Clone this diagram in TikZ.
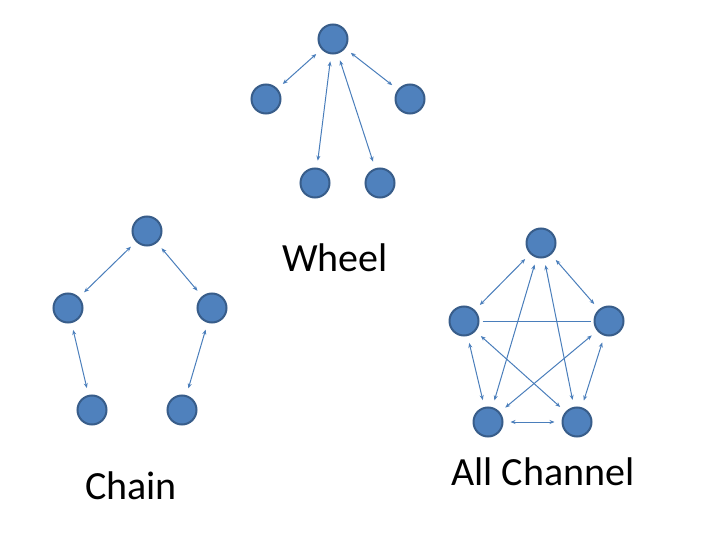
\documentclass[tikz,border=0pt]{standalone}
\usepackage{fontspec}
\setmainfont{Carlito}
\usetikzlibrary{arrows.meta}
\definecolor{nf}{HTML}{4F81BD}\definecolor{nb}{HTML}{385D8A}\definecolor{ln}{HTML}{4A7EBB}
\begin{document}
\begin{tikzpicture}[x=1pt,y=-1pt,
 n/.style={circle,fill=nf,draw=nb,line width=2pt,minimum size=29pt,inner sep=0},
 e/.style={draw=ln,line width=1pt,{Stealth[length=5pt,width=4pt]}-{Stealth[length=5pt,width=4pt]},shorten <=7pt,shorten >=7pt},
 lab/.style={font=\fontsize{40}{48}\selectfont}]
\useasboundingbox (0,0) rectangle (720,540);
\node[n] (w0) at (333,39) {};
\node[n] (w1) at (266,99) {};
\node[n] (w2) at (410,99) {};
\node[n] (w3) at (315,183) {};
\node[n] (w4) at (380,183) {};
\foreach \b in {w1,w2,w3,w4} \draw[e] (w0) -- (\b);
\node[n] (c0) at (147,231) {};
\node[n] (c1) at (68,308) {};
\node[n] (c2) at (212,308) {};
\node[n] (c3) at (92,410) {};
\node[n] (c4) at (182,410) {};
\draw[e] (c0)--(c1); \draw[e] (c0)--(c2); \draw[e] (c1)--(c3); \draw[e] (c2)--(c4);
\node[n] (a0) at (541,243) {};
\node[n] (a1) at (464,321) {};
\node[n] (a2) at (609,321) {};
\node[n] (a3) at (488,422) {};
\node[n] (a4) at (577,422) {};
\draw[e] (a0)--(a1); \draw[e] (a0)--(a2); \draw[e] (a0)--(a3); \draw[e] (a0)--(a4);
\draw[draw=ln,line width=1pt,shorten <=3pt,shorten >=3pt] (a1)--(a2);
\draw[e] (a1)--(a3); \draw[e] (a1)--(a4); \draw[e] (a2)--(a3); \draw[e] (a2)--(a4); \draw[e] (a3)--(a4);
\node[lab] (tw) at (335,258) {Wheel};
\node[lab] (tc) at (131,486) {Chain};
\node[lab] (ta) at (543,472) {All Channel};
\end{tikzpicture}
\end{document}
